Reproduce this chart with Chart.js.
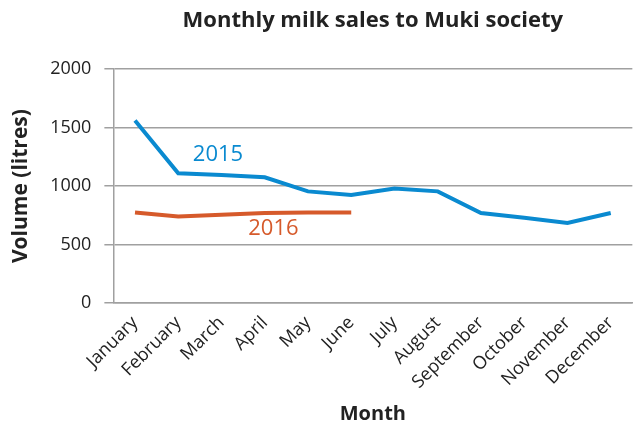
<!DOCTYPE html>
<html>
<head>
<meta charset="utf-8">
<script src="https://cdn.jsdelivr.net/npm/chart.js@4"></script>
<style>
  html, body { margin: 0; padding: 0; background: #fff; }
  #wrap { width: 635px; height: 430px; }
</style>
</head>
<body>
<div id="wrap"><canvas id="chart" width="635" height="430"></canvas></div>
<script>
const months = ['January', 'February', 'March', 'April', 'May', 'June', 'July', 'August', 'September', 'October', 'November', 'December'];
const sales2015 = [1560, 1110, 1095, 1075, 955, 925, 980, 955, 770, 730, 685, 770];
const sales2016 = [775, 740, 755, 770, 775, 775];
const yTicks = [0, 500, 1000, 1500, 2000];

const BLUE = '#0a8ad0';
const ORANGE = '#d65a2b';
const GRID = '#a0a0a0';
const FONT = "'Open Sans', sans-serif";

// series labels placed in data coordinates
const seriesLabels = [
  { text: '2015', x: 1.92, y: 1265, color: BLUE },
  { text: '2016', x: 3.2, y: 632, color: ORANGE },
];

const labelPlugin = {
  id: 'labels',
  afterDraw(chart) {
    const { ctx, scales, chartArea } = chart;
    ctx.save();
    ctx.textAlign = 'center';
    ctx.textBaseline = 'middle';
    ctx.font = '22px ' + FONT;
    seriesLabels.forEach(l => {
      ctx.fillStyle = l.color;
      ctx.fillText(l.text, scales.x.getPixelForValue(l.x), scales.y.getPixelForValue(l.y));
    });
    // title centred over the plot area
    ctx.fillStyle = '#222';
    ctx.font = 'bold 22px ' + FONT;
    ctx.fillText('Monthly milk sales to Muki society', (chartArea.left + chartArea.right) / 2, 21);
    ctx.restore();
  }
};

new Chart(document.getElementById('chart'), {
  type: 'line',
  data: {
    labels: months,
    datasets: [
      { label: '2015', data: sales2015, borderColor: BLUE, borderWidth: 4, pointRadius: 0, tension: 0 },
      { label: '2016', data: sales2016, borderColor: ORANGE, borderWidth: 4, pointRadius: 0, tension: 0 },
    ],
  },
  options: {
    responsive: false,
    animation: false,
    layout: { padding: { top: 69, right: 0, left: 4, bottom: 0 } },
    plugins: {
      legend: { display: false },
      tooltip: { enabled: false },
    },
    scales: {
      x: {
        offset: true,
        grid: { display: false, drawTicks: false },
        border: { color: GRID, width: 1.5 },
        ticks: {
          color: '#222', font: { family: FONT, size: 18 },
          minRotation: 45, maxRotation: 45, padding: 9,
        },
        title: {
          display: true, text: 'Month', color: '#222',
          font: { family: FONT, size: 20, weight: 'bold' }, padding: { top: 0 },
        },
      },
      y: {
        min: 0, max: 2000,
        afterBuildTicks: axis => { axis.ticks = yTicks.map(v => ({ value: v })); },
        grid: { color: GRID, lineWidth: 1.5, tickLength: 9 },
        border: { color: GRID, width: 1.5 },
        ticks: { color: '#222', font: { family: FONT, size: 18 }, padding: 13, callback: v => String(v) },
        title: {
          display: true, text: 'Volume (litres)', color: '#222',
          font: { family: FONT, size: 21, weight: 'bold' }, padding: { bottom: 4 },
        },
      },
    },
  },
  plugins: [labelPlugin],
});
</script>
</body>
</html>
